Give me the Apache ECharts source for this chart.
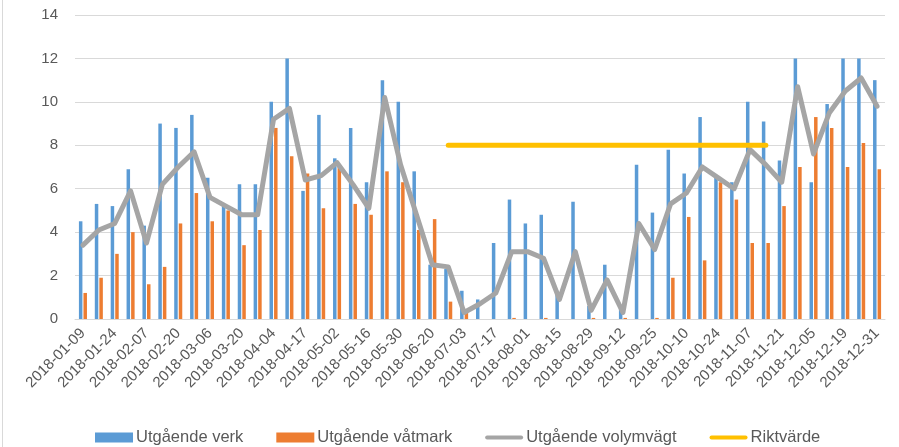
<!DOCTYPE html>
<html>
<head>
<meta charset="utf-8">
<script src="https://cdn.jsdelivr.net/npm/echarts@6/dist/echarts.min.js"></script>
<style>
  html, body { margin: 0; padding: 0; background: #fff; }
  #chart { width: 899px; height: 447px; }
</style>
</head>
<body>
<div id="chart"></div>
<script>
// datum (varannan visas på x-axeln)
var datum = [
  '2018-01-09','2018-01-17','2018-01-24','2018-01-31','2018-02-07','2018-02-14','2018-02-20','2018-02-27',
  '2018-03-06','2018-03-13','2018-03-20','2018-03-27','2018-04-04','2018-04-10','2018-04-17','2018-04-25',
  '2018-05-02','2018-05-09','2018-05-16','2018-05-23','2018-05-30','2018-06-07','2018-06-20','2018-06-26',
  '2018-07-03','2018-07-10','2018-07-17','2018-07-24','2018-08-01','2018-08-08','2018-08-15','2018-08-22',
  '2018-08-29','2018-09-05','2018-09-12','2018-09-19','2018-09-25','2018-10-03','2018-10-10','2018-10-17',
  '2018-10-24','2018-10-31','2018-11-07','2018-11-14','2018-11-21','2018-11-28','2018-12-05','2018-12-12',
  '2018-12-19','2018-12-27','2018-12-31'
];
// Utgående verk
var verk = [
  4.5, 5.3, 5.2, 6.9, 4.3, 9.0, 8.8, 9.4, 6.5, 5.2, 6.2, 6.2, 10.0, 12.0, 5.9, 9.4,
  7.4, 8.8, 6.3, 11.0, 10.0, 6.8, 2.5, 2.3, 1.3, 0.9, 3.5, 5.5, 4.4, 4.8, 1.3, 5.4,
  0.6, 2.5, 0.5, 7.1, 4.9, 7.8, 6.7, 9.3, 6.5, 6.3, 10.0, 9.1, 7.3, 12.0, 6.3, 9.9,
  12.0, 12.0, 11.0
];
// Utgående våtmark
var vatmark = [
  1.2, 1.9, 3.0, 4.0, 1.6, 2.4, 4.4, 5.8, 4.5, 5.0, 3.4, 4.1, 8.8, 7.5, 6.7, 5.1,
  7.0, 5.3, 4.8, 6.8, 6.3, 4.1, 4.6, 0.8, 0.3, 0, 0, 0.05, 0, 0.05, 0, 0,
  0.05, 0, 0.05, 0, 0.05, 1.9, 4.7, 2.7, 6.3, 5.5, 3.5, 3.5, 5.2, 7.0, 9.3, 8.8,
  7.0, 8.1, 6.9
];
// Utgående volymvägt
var volymvagt = [
  3.4, 4.1, 4.4, 5.9, 3.5, 6.2, 7.0, 7.7, 5.6, 5.2, 4.8, 4.8, 9.2, 9.7, 6.4, 6.6,
  7.2, 6.2, 5.1, 10.2, 7.1, 4.8, 2.5, 2.4, 0.3, 0.7, 1.2, 3.1, 3.1, 2.8, 0.9, 3.1,
  0.4, 1.8, 0.3, 4.4, 3.2, 5.3, 5.8, 7.0, 6.5, 6.0, 7.8, 7.1, 6.3, 10.7, 7.6, 9.5,
  10.5, 11.1, 9.8
];
// Riktvärde (8) mellan 2018-06-26 och 2018-11-14
var riktvarde = [
  null, null, null, null, null, null, null, null, null, null, null, null, null, null, null, null,
  null, null, null, null, null, null, null, 8, 8, 8, 8, 8, 8, 8, 8, 8,
  8, 8, 8, 8, 8, 8, 8, 8, 8, 8, 8, 8, null, null, null, null,
  null, null, null
];
var yTicks = [0, 2, 4, 6, 8, 10, 12, 14];

var myChart = echarts.init(document.getElementById('chart'));
var textGray = '#595959';
var fontName = 'Liberation Sans';
// tjock linje som legendikon
var lineIcon = 'path://M2,0 L36,0 A2,2 0 0 1 36,4 L2,4 A2,2 0 0 1 2,0 Z';

myChart.setOption({
  animation: false,
  backgroundColor: '#fff',
  graphic: [{
    type: 'line',
    shape: { x1: 2.5, y1: 0, x2: 2.5, y2: 447 },
    style: { stroke: '#d9d9d9', lineWidth: 1 }
  }],
  grid: { left: 75, right: 14, top: 15, bottom: 128, containLabel: false },
  legend: {
    bottom: 1,
    left: 95,
    padding: 0,
    itemWidth: 38,
    itemHeight: 10,
    itemGap: 33,
    textStyle: { color: textGray, fontSize: 16.5, fontFamily: fontName, padding: [0, 0, 0, -2] },
    data: [
      { name: 'Utgående verk', icon: 'rect' },
      { name: 'Utgående våtmark', icon: 'rect' },
      { name: 'Utgående volymvägt', icon: lineIcon },
      { name: 'Riktvärde', icon: lineIcon }
    ]
  },
  xAxis: {
    type: 'category',
    data: datum,
    boundaryGap: true,
    axisLine: { lineStyle: { color: '#d9d9d9', width: 1 } },
    axisTick: { show: false },
    axisLabel: {
      interval: 1,
      rotate: 45,
      margin: 12,
      color: textGray,
      fontSize: 15,
      fontFamily: fontName
    }
  },
  yAxis: {
    type: 'value',
    min: yTicks[0],
    max: yTicks[yTicks.length - 1],
    interval: 2,
    axisLine: { show: false },
    axisTick: { show: false },
    splitLine: { lineStyle: { color: '#d9d9d9', width: 1 } },
    axisLabel: { color: textGray, fontSize: 15, fontFamily: fontName, margin: 17 }
  },
  series: [
    {
      name: 'Utgående verk',
      type: 'bar',
      data: verk,
      barWidth: 3.5,
      barGap: '30%',
      itemStyle: { color: '#5b9bd5' }
    },
    {
      name: 'Utgående våtmark',
      type: 'bar',
      data: vatmark,
      barWidth: 3.5,
      barGap: '30%',
      itemStyle: { color: '#ed7d31' }
    },
    {
      name: 'Utgående volymvägt',
      type: 'line',
      data: volymvagt,
      symbol: 'none',
      lineStyle: { color: '#a5a5a5', width: 5, join: 'round', cap: 'round' },
      itemStyle: { color: '#a5a5a5' },
      z: 3
    },
    {
      name: 'Riktvärde',
      type: 'line',
      data: riktvarde,
      symbol: 'none',
      lineStyle: { color: '#ffc000', width: 5, cap: 'round' },
      itemStyle: { color: '#ffc000' },
      z: 4
    }
  ]
});
</script>
</body>
</html>
